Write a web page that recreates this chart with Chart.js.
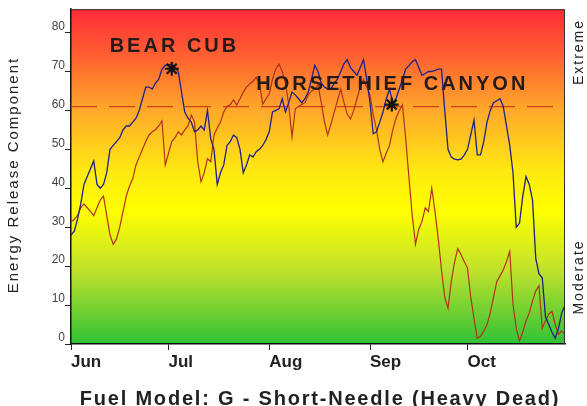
<!DOCTYPE html>
<html>
<head>
<meta charset="utf-8">
<script src="https://cdn.jsdelivr.net/npm/chart.js@4.4.1/dist/chart.umd.min.js"></script>
<style>
  html, body { margin: 0; padding: 0; background: #fff; }
  #wrap { width: 587px; height: 406px; position: relative; }
</style>
</head>
<body>
<div id="wrap"><canvas id="ercChart"></canvas></div>
<script>
// day 0 = June 1, day 152 = October 31
const monthLabels = ['Jun', 'Jul', 'Aug', 'Sep', 'Oct'];
const monthDays = [0, 30, 61, 92, 122];
const yTicks = [0, 10, 20, 30, 40, 50, 60, 70, 80];

// Bear Cub ERC, one value per day
const bearCubErc = [
  28, 29, 32, 36, 41, 43, 45, 47, 41, 40,
  41, 44, 50, 51, 52, 53, 55, 56, 56, 57,
  58, 60, 63, 66, 66, 65.5, 67, 68, 70.6, 71.6,
  71.6, 72, 71, 70, 64.7, 59.6, 58, 57, 54.5, 55,
  56, 55, 60, 52.7, 50, 41, 44, 46, 51, 52,
  53.7, 53, 50, 44, 46, 48.6, 48, 49.4, 50, 51,
  52.5, 54.5, 59.6, 60, 60.4, 63, 59.6, 62, 64.7, 64,
  63, 62, 63, 64.7, 68, 71.6, 70, 67, 66, 65.5,
  65.5, 67, 68, 70, 72, 73, 71, 70, 69, 71,
  73, 68, 62, 54, 54.5, 57, 59.6, 63, 65.5, 62,
  63, 65.5, 68, 70.6, 71.5, 72.5, 73, 71, 69, 69.5,
  70, 70, 70.3, 70.6, 70.6, 60, 50, 48, 47.5, 47.3,
  47.5, 48.5, 50, 53.7, 57.5, 48.6, 48.6, 52, 57, 60,
  62, 62.5, 63, 61, 56, 51, 44, 30, 31, 38,
  43, 41, 37, 22, 18, 17, 7, 5, 3, 1.5,
  4, 8, 10
];

// Horsethief Canyon ERC, one value per day
const horsethiefErc = [
  31.5, 32, 33, 35, 36, 35, 34, 33, 35, 37,
  38, 33, 28, 25.6, 27, 30, 34, 38, 40.5, 42.5,
  46, 48, 50, 52, 53.7, 54.5, 55, 56, 57.3, 46,
  49, 52, 53, 54.5, 53.7, 55, 56, 58.8, 57, 46.8,
  41.7, 44, 47.6, 46.8, 53.7, 55.5, 57, 59.6, 61, 61.5,
  62.7, 61.4, 63, 64.7, 66, 66.8, 67.5, 68.5, 67, 61.6,
  63, 64.2, 68, 70.6, 71.9, 70, 67, 61.4, 53.2, 60.4,
  61, 61.5, 62, 64, 65, 65.5, 66.5, 62, 57, 53.7,
  56.5, 59.6, 62.5, 65.5, 62, 59, 57.8, 60, 63, 66,
  68, 66, 64, 59, 55, 50, 46.8, 49, 51, 55,
  58, 60, 61.4, 52.7, 42.5, 33, 25.6, 29.5, 31.5, 35,
  34, 40, 34, 27, 19, 12, 9.2, 16, 21, 24.5,
  23, 21.2, 19.5, 12, 6.6, 1.5, 2, 3.3, 5, 8,
  12, 16, 17.5, 19, 21.2, 23.8, 10.2, 4, 0.8, 3,
  5.9, 8, 11, 13.6, 15, 4, 6, 7.7, 8.4, 5,
  2.5, 3.3, 2.5
];

const thresholdErc = 61;
const starDays = [31, 98.7];
const starErc = [70.7, 61.5];
const siteNames = ['BEAR CUB', 'HORSETHIEF CANYON'];

const toPoints = arr => arr.map((v, i) => ({ x: i, y: v }));

// gradient background + white canvas
const backdrop = {
  id: 'backdrop',
  beforeDraw(chart) {
    const { ctx, chartArea: a, width, height } = chart;
    ctx.save();
    ctx.fillStyle = '#fff';
    ctx.fillRect(0, 0, width, height);
    const g = ctx.createLinearGradient(0, a.top, 0, a.bottom);
    g.addColorStop(0, '#ff2a3a');
    g.addColorStop(0.15, '#ff6530');
    g.addColorStop(0.3, '#ffa82a');
    g.addColorStop(0.48, '#ffe812');
    g.addColorStop(0.6, '#ffff00');
    g.addColorStop(0.78, '#c0e22c');
    g.addColorStop(1, '#30c236');
    ctx.fillStyle = g;
    ctx.fillRect(a.left, a.top, a.right - a.left, a.bottom - a.top);
    ctx.restore();
  }
};

function spacedText(ctx, text, x, y, spacing) {
  if ('letterSpacing' in ctx) {
    ctx.letterSpacing = spacing + 'px';
    ctx.fillText(text, x, y);
    ctx.letterSpacing = '0px';
  } else {
    ctx.fillText(text, x, y);
  }
}

// site names, side labels, axis titles, frame
const labels = {
  id: 'labels',
  afterDatasetsDraw(chart) {
    const { ctx, scales: { x, y } } = chart;
    ctx.save();
    ctx.fillStyle = '#241a1a';
    ctx.font = 'bold 20px "Liberation Sans", Arial, sans-serif';
    ctx.textAlign = 'left';
    ctx.textBaseline = 'alphabetic';
    spacedText(ctx, siteNames[0], x.getPixelForValue(11.9), y.getPixelForValue(74.9), 3);
    spacedText(ctx, siteNames[1], x.getPixelForValue(57), y.getPixelForValue(65.2), 3);
    ctx.restore();
  },
  afterDraw(chart) {
    const { ctx, chartArea: a } = chart;
    ctx.save();
    ctx.strokeStyle = '#333';
    ctx.lineWidth = 1;
    ctx.beginPath();
    ctx.moveTo(a.left, a.top + 0.5);
    ctx.lineTo(a.right - 0.5, a.top + 0.5);
    ctx.lineTo(a.right - 0.5, a.bottom);
    ctx.stroke();

    ctx.fillStyle = '#222';
    ctx.textAlign = 'center';
    ctx.textBaseline = 'middle';

    const vertical = (text, cx, cy, font, sp) => {
      ctx.save();
      ctx.translate(cx, cy);
      ctx.rotate(-Math.PI / 2);
      ctx.font = font;
      spacedText(ctx, text, 0, 0, sp);
      ctx.restore();
    };
    vertical('Energy Release Component', 14, 175, '15px "Liberation Sans", Arial, sans-serif', 2);
    vertical('Extreme', 579, 52, '14px "Liberation Sans", Arial, sans-serif', 2);
    vertical('Moderate', 579, 277, '14px "Liberation Sans", Arial, sans-serif', 2);

    ctx.font = 'bold 20px "Liberation Sans", Arial, sans-serif';
    ctx.textBaseline = 'alphabetic';
    spacedText(ctx, 'Fuel Model: G - Short-Needle (Heavy Dead)', 320, 405, 1.8);
    ctx.restore();
  }
};

new Chart(document.getElementById('ercChart'), {
  type: 'line',
  data: {
    datasets: [
      {
        type: 'scatter',
        data: starDays.map((d, i) => ({ x: d, y: starErc[i] })),
        pointStyle: 'star',
        pointRadius: 7,
        borderColor: '#111',
        backgroundColor: '#111',
        pointBorderWidth: 2.2
      },
      {
        label: 'Bear Cub',
        data: toPoints(bearCubErc),
        borderColor: '#1f1f86',
        borderWidth: 1.3,
        pointRadius: 0,
        tension: 0
      },
      {
        label: 'Horsethief Canyon',
        data: toPoints(horsethiefErc),
        borderColor: '#b3311c',
        borderWidth: 1.2,
        pointRadius: 0,
        tension: 0
      },
      {
        label: 'Threshold',
        data: [{ x: 0, y: thresholdErc }, { x: 152, y: thresholdErc }],
        borderColor: '#d5401c',
        borderWidth: 1.3,
        borderDash: [26, 12],
        pointRadius: 0
      }
    ]
  },
  options: {
    responsive: true,
    maintainAspectRatio: false,
    animation: false,
    layout: { padding: { left: 0, right: 22, top: 8, bottom: 0 } },
    plugins: { legend: { display: false }, tooltip: { enabled: false } },
    scales: {
      x: {
        type: 'linear',
        min: 0,
        max: 152,
        afterBuildTicks: s => { s.ticks = monthDays.map(v => ({ value: v })); },
        afterFit: s => { s.height = 62; },
        grid: { drawOnChartArea: false, drawTicks: true, tickLength: 6, color: '#222' },
        border: { display: true, color: '#111', width: 1.5 },
        ticks: {
          align: 'start',
          padding: 2,
          maxRotation: 0,
          autoSkip: false,
          color: '#222',
          font: { family: '"Liberation Sans", Arial, sans-serif', size: 17, weight: 'bold' },
          callback: v => monthLabels[monthDays.indexOf(v)]
        }
      },
      y: {
        min: 0,
        max: 86,
        afterBuildTicks: s => { s.ticks = yTicks.map(v => ({ value: v })); },
        afterFit: s => { s.width = 71; },
        grid: { drawOnChartArea: false, drawTicks: true, tickLength: 6, color: '#222' },
        border: { display: true, color: '#111', width: 1.5 },
        ticks: {
          padding: 0,
          labelOffset: -6,
          color: '#444',
          font: { family: '"Liberation Sans", Arial, sans-serif', size: 12 }
        }
      }
    }
  },
  plugins: [backdrop, labels]
});
</script>
</body>
</html>
